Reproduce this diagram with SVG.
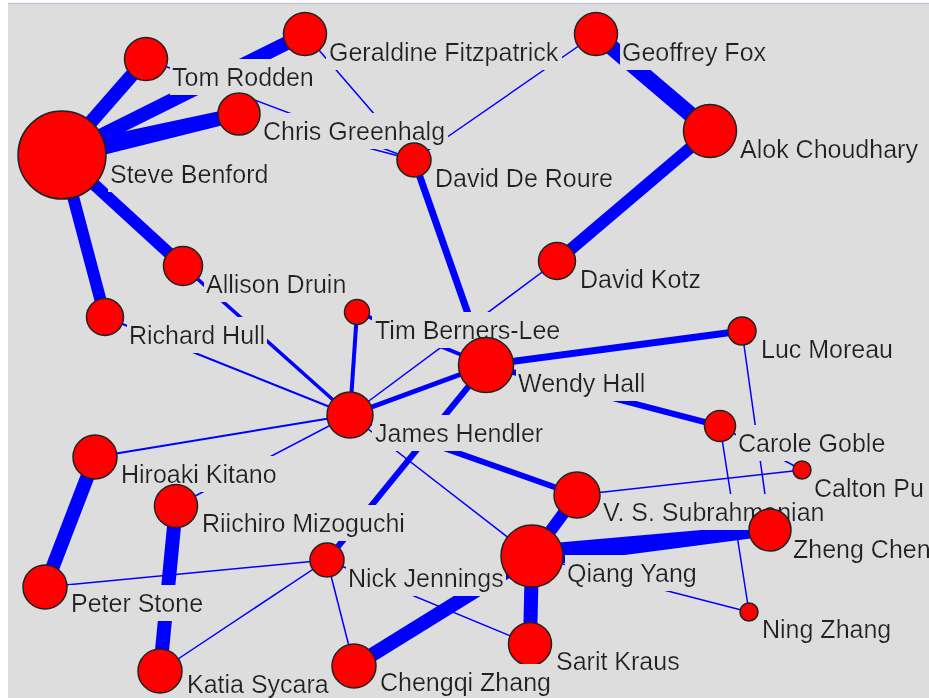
<svg xmlns="http://www.w3.org/2000/svg" width="929" height="698" viewBox="0 0 929 698">
<style>
.e{stroke:#0000ff;fill:none;stroke-linecap:butt}
.p{fill:#0000ff;stroke:none}
.n{fill:#ff0000;stroke:#222;stroke-width:1.5}
.l{font-family:"Liberation Sans",Arial,sans-serif;font-size:25px;fill:#222;filter:url(#lbg)}
</style>
<defs>
<filter id="lbg" x="-0.012" y="-0.12" width="1.024" height="1.23">
<feFlood flood-color="#dddddd"/>
<feMerge><feMergeNode/><feMergeNode in="SourceGraphic"/></feMerge>
</filter>
</defs>
<rect x="0" y="0" width="929" height="698" fill="#ffffff"/>
<rect x="8" y="4" width="921" height="694" fill="#dddddd"/>
<line x1="8" y1="3.5" x2="929" y2="3.5" stroke="#c4c4d8" stroke-width="1.5"/>
<g id="connectors">
<line class="e" x1="62" y1="155" x2="146" y2="59" stroke-width="14"/>
<line class="e" x1="62" y1="155" x2="305" y2="34" stroke-width="14"/>
<polygon class="p" points="64.3,164.7 59.7,145.3 237.4,107.2 240.6,120.8"/>
<line class="e" x1="62" y1="155" x2="183" y2="266" stroke-width="12"/>
<line class="e" x1="62" y1="155" x2="105" y2="317" stroke-width="12"/>
<line class="e" x1="146" y1="59" x2="414" y2="160" stroke-width="1.5"/>
<line class="e" x1="239" y1="114" x2="414" y2="160" stroke-width="1.5"/>
<line class="e" x1="305" y1="34" x2="414" y2="160" stroke-width="1.5"/>
<line class="e" x1="596" y1="34" x2="414" y2="160" stroke-width="1.5"/>
<line class="e" x1="596" y1="34" x2="710" y2="131" stroke-width="16"/>
<line class="e" x1="710" y1="131" x2="557" y2="261" stroke-width="12"/>
<line class="e" x1="414" y1="160" x2="486" y2="365" stroke-width="7"/>
<line class="e" x1="557" y1="261" x2="350" y2="415" stroke-width="1.5"/>
<line class="e" x1="183" y1="266" x2="350" y2="415" stroke-width="3.5"/>
<line class="e" x1="105" y1="317" x2="350" y2="415" stroke-width="2"/>
<line class="e" x1="95" y1="457" x2="350" y2="415" stroke-width="2"/>
<line class="e" x1="176" y1="506" x2="350" y2="415" stroke-width="1.5"/>
<line class="e" x1="357" y1="312" x2="350" y2="415" stroke-width="4"/>
<line class="e" x1="357" y1="312" x2="486" y2="365" stroke-width="4"/>
<line class="e" x1="350" y1="415" x2="486" y2="365" stroke-width="5"/>
<line class="e" x1="486" y1="365" x2="742" y2="331" stroke-width="7"/>
<line class="e" x1="486" y1="365" x2="720" y2="426" stroke-width="6"/>
<line class="e" x1="486" y1="365" x2="327" y2="560" stroke-width="6"/>
<line class="e" x1="350" y1="415" x2="577" y2="495" stroke-width="6"/>
<line class="e" x1="350" y1="415" x2="532" y2="556" stroke-width="1.5"/>
<line class="e" x1="577" y1="495" x2="802" y2="470" stroke-width="1.5"/>
<line class="e" x1="577" y1="495" x2="532" y2="556" stroke-width="12"/>
<polygon class="p" points="533.2,566.9 530.8,545.1 769.3,524.0 770.7,536.0"/>
<line class="e" x1="532" y1="556" x2="530" y2="644" stroke-width="14"/>
<line class="e" x1="532" y1="556" x2="354" y2="666" stroke-width="14"/>
<line class="e" x1="327" y1="560" x2="530" y2="644" stroke-width="1.5"/>
<line class="e" x1="327" y1="560" x2="354" y2="666" stroke-width="1.5"/>
<line class="e" x1="327" y1="560" x2="160" y2="671" stroke-width="1.5"/>
<line class="e" x1="327" y1="560" x2="45" y2="587" stroke-width="1.5"/>
<line class="e" x1="176" y1="506" x2="160" y2="671" stroke-width="14"/>
<line class="e" x1="95" y1="457" x2="45" y2="587" stroke-width="14"/>
<line class="e" x1="742" y1="331" x2="770" y2="530" stroke-width="1.5"/>
<line class="e" x1="720" y1="426" x2="749" y2="612" stroke-width="1.5"/>
<line class="e" x1="720" y1="426" x2="802" y2="470" stroke-width="1.5"/>
<line class="e" x1="532" y1="556" x2="749" y2="612" stroke-width="1.5"/>
</g>
<g id="steve-benford"><text class="l" x="110" y="183">Steve Benford</text><circle class="n" cx="62" cy="155" r="44"/></g>
<g id="tom-rodden"><text class="l" x="172" y="86">Tom Rodden</text><circle class="n" cx="146" cy="59" r="21.5"/></g>
<g id="geraldine-fitzpatrick"><text class="l" x="329" y="61">Geraldine Fitzpatrick</text><circle class="n" cx="305" cy="34" r="21.5"/></g>
<g id="chris-greenhalg"><text class="l" x="263" y="140">Chris Greenhalg</text><circle class="n" cx="239" cy="114" r="21"/></g>
<g id="david-de-roure"><text class="l" x="435" y="187">David De Roure</text><circle class="n" cx="414" cy="160" r="17"/></g>
<g id="geoffrey-fox"><text class="l" x="622" y="61">Geoffrey Fox</text><circle class="n" cx="596" cy="34" r="21.5"/></g>
<g id="alok-choudhary"><text class="l" x="740" y="158">Alok Choudhary</text><circle class="n" cx="710" cy="131" r="26.5"/></g>
<g id="david-kotz"><text class="l" x="580" y="288">David Kotz</text><circle class="n" cx="557" cy="261" r="18.5"/></g>
<g id="allison-druin"><text class="l" x="206" y="293">Allison Druin</text><circle class="n" cx="183" cy="266" r="19.5"/></g>
<g id="richard-hull"><text class="l" x="129" y="344">Richard Hull</text><circle class="n" cx="105" cy="317" r="18.5"/></g>
<g id="tim-berners-lee"><text class="l" x="375" y="339">Tim Berners-Lee</text><circle class="n" cx="357" cy="312" r="12.5"/></g>
<g id="james-hendler"><text class="l" x="375" y="442">James Hendler</text><circle class="n" cx="350" cy="415" r="23"/></g>
<g id="wendy-hall"><text class="l" x="518" y="392">Wendy Hall</text><circle class="n" cx="486" cy="365" r="27.5"/></g>
<g id="luc-moreau"><text class="l" x="761" y="358">Luc Moreau</text><circle class="n" cx="742" cy="331" r="14"/></g>
<g id="carole-goble"><text class="l" x="738" y="452">Carole Goble</text><circle class="n" cx="720" cy="426" r="15.5"/></g>
<g id="vs-subrahmanian"><text class="l" x="603" y="521">V. S. Subrahmanian</text><circle class="n" cx="577" cy="495" r="23"/></g>
<g id="calton-pu"><text class="l" x="814" y="497">Calton Pu</text><circle class="n" cx="802" cy="470" r="9"/></g>
<g id="zheng-chen"><text class="l" x="793" y="558">Zheng Chen</text><circle class="n" cx="770" cy="530" r="21"/></g>
<g id="nick-jennings"><text class="l" x="348" y="587">Nick Jennings</text><circle class="n" cx="327" cy="560" r="17"/></g>
<g id="qiang-yang"><text class="l" x="567" y="582">Qiang Yang</text><circle class="n" cx="532" cy="556" r="31"/></g>
<g id="ning-zhang"><text class="l" x="762" y="638">Ning Zhang</text><circle class="n" cx="749" cy="612" r="9"/></g>
<g id="sarit-kraus"><text class="l" x="556" y="670">Sarit Kraus</text><circle class="n" cx="530" cy="644" r="21.5"/></g>
<g id="chengqi-zhang"><text class="l" x="380" y="691">Chengqi Zhang</text><circle class="n" cx="354" cy="666" r="22"/></g>
<g id="katia-sycara"><text class="l" x="187" y="693">Katia Sycara</text><circle class="n" cx="160" cy="671" r="22"/></g>
<g id="peter-stone"><text class="l" x="71" y="612">Peter Stone</text><circle class="n" cx="45" cy="587" r="22"/></g>
<g id="hiroaki-kitano"><text class="l" x="121" y="483">Hiroaki Kitano</text><circle class="n" cx="95" cy="457" r="22"/></g>
<g id="riichiro-mizoguchi"><text class="l" x="202" y="532">Riichiro Mizoguchi</text><circle class="n" cx="176" cy="506" r="21.5"/></g>
</svg>
